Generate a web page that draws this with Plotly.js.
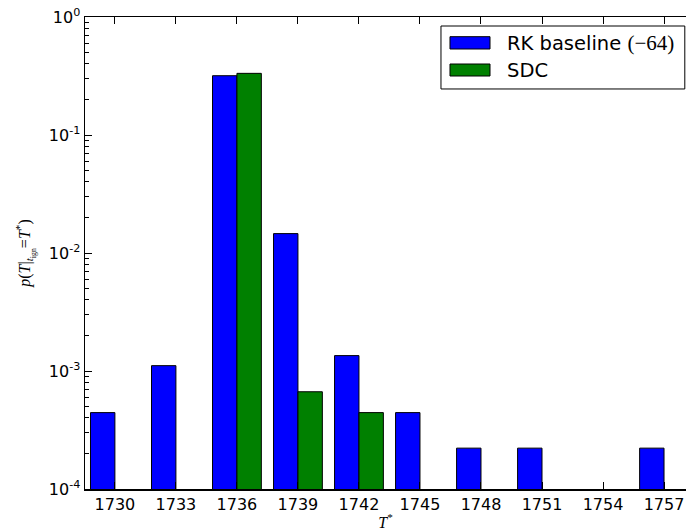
<!DOCTYPE html>
<html>
<head>
<meta charset="utf-8">
<script src="https://cdn.plot.ly/plotly-3.0.1.min.js"></script>
<style>html,body{margin:0;padding:0;background:#fff;overflow:hidden;}</style>
</head>
<body>
<div id="chart" style="width:686px;height:531px;"></div>
<script>
// Data
const categories = ["1730","1733","1736","1739","1742","1745","1748","1751","1754","1757"];
const rkBaseline = [4.44e-4, 1.11e-3, 0.318, 0.0146, 1.35e-3, 4.44e-4, 2.22e-4, 2.22e-4, null, 2.22e-4];
const sdc = [null, null, 0.333, 6.67e-4, 4.44e-4, null, null, null, null, null];
const seriesNames = ["RK baseline <span style='font-family:Liberation Serif;font-size:21px'>(−64)</span>", "SDC"];
const seriesColors = ["#0000ff", "#008000"];
const yTickVals = [1e-4, 1e-3, 1e-2, 1e-1, 1];
const yTickText = ["10<sup>-4</sup>","10<sup>-3</sup>","10<sup>-2</sup>","10<sup>-1</sup>","10<sup>0</sup>"];

const idx = categories.map((c, i) => i);
const minorVals = [];
for (let d = -4; d < 0; d++) { for (let m = 2; m <= 9; m++) minorVals.push(m * Math.pow(10, d)); }

const traces = [
  {
    type: 'bar', name: seriesNames[0],
    x: idx, y: rkBaseline, width: 0.4, offset: -0.4,
    marker: {color: seriesColors[0], line: {color: '#000000', width: 1}},
    hoverinfo: 'skip', showlegend: false
  },
  {
    type: 'bar', name: seriesNames[1],
    x: idx, y: sdc, width: 0.4, offset: 0,
    marker: {color: seriesColors[1], line: {color: '#000000', width: 1}},
    hoverinfo: 'skip', showlegend: false
  }
];

// Legend drawn as a box with swatches (paper coordinates)
const shapes = [
  {type: 'rect', xref: 'paper', yref: 'paper', x0: 0.5923, x1: 0.998, y0: 0.8475, y1: 0.9809,
   line: {color: '#000', width: 1}, fillcolor: '#fff', layer: 'above'},
  {type: 'rect', xref: 'paper', yref: 'paper', x0: 0.6073, x1: 0.6739, y0: 0.9322, y1: 0.9583,
   line: {color: '#000', width: 1}, fillcolor: seriesColors[0], layer: 'above'},
  {type: 'rect', xref: 'paper', yref: 'paper', x0: 0.6073, x1: 0.6739, y0: 0.8750, y1: 0.9004,
   line: {color: '#000', width: 1}, fillcolor: seriesColors[1], layer: 'above'}
];
const annotations = [
  {xref: 'paper', yref: 'paper', x: 0.6985, y: 0.9449, xanchor: 'left', yanchor: 'middle', showarrow: false,
   text: seriesNames[0], font: {family: 'DejaVu Sans', size: 19.5, color: '#000'}},
  {xref: 'paper', yref: 'paper', x: 0.6985, y: 0.8877, xanchor: 'left', yanchor: 'middle', showarrow: false,
   text: seriesNames[1], font: {family: 'DejaVu Sans', size: 19.5, color: '#000'}}
];

const layout = {
  width: 686, height: 531,
  margin: {l: 85, r: 0, t: 17, b: 42},
  paper_bgcolor: '#fff', plot_bgcolor: '#fff',
  showlegend: false,
  font: {family: 'DejaVu Sans', size: 16, color: '#000'},
  barmode: 'overlay',
  shapes: shapes,
  annotations: annotations,
  xaxis: {
    range: [-0.49, 9.36],
    tickvals: idx, ticktext: categories,
    ticks: 'inside', ticklen: 7, tickwidth: 1, tickcolor: '#000',
    showline: true, linecolor: '#000', linewidth: 1.5, mirror: 'ticks',
    showgrid: false, zeroline: false,
    tickfont: {family: 'DejaVu Sans', size: 16, color: '#000'},
    title: {text: '<i>T</i><sup>*</sup>', font: {family: 'Liberation Serif', size: 16, color: '#000'}, standoff: 6},
    automargin: false, fixedrange: true
  },
  yaxis: {
    type: 'log', range: [-4, 0],
    tickvals: yTickVals, ticktext: yTickText,
    ticks: 'inside', ticklen: 7, tickwidth: 1, tickcolor: '#000',
    minor: {tickvals: minorVals, ticks: 'inside', ticklen: 4, tickwidth: 1, tickcolor: '#000', showgrid: false},
    showline: true, linecolor: '#000', linewidth: 1.5, mirror: false,
    showgrid: false, zeroline: false,
    tickfont: {family: 'DejaVu Sans', size: 16, color: '#000'},
    title: {text: '<i>p</i>(<i>T</i>|<sub><i>t</i><sub>ign</sub></sub>=<i>T</i><sup>*</sup>)', font: {family: 'Liberation Serif', size: 16, color: '#000'}, standoff: 14},
    automargin: false, fixedrange: true
  }
};

Plotly.newPlot('chart', traces, layout, {staticPlot: true, displayModeBar: false});
</script>
</body>
</html>
